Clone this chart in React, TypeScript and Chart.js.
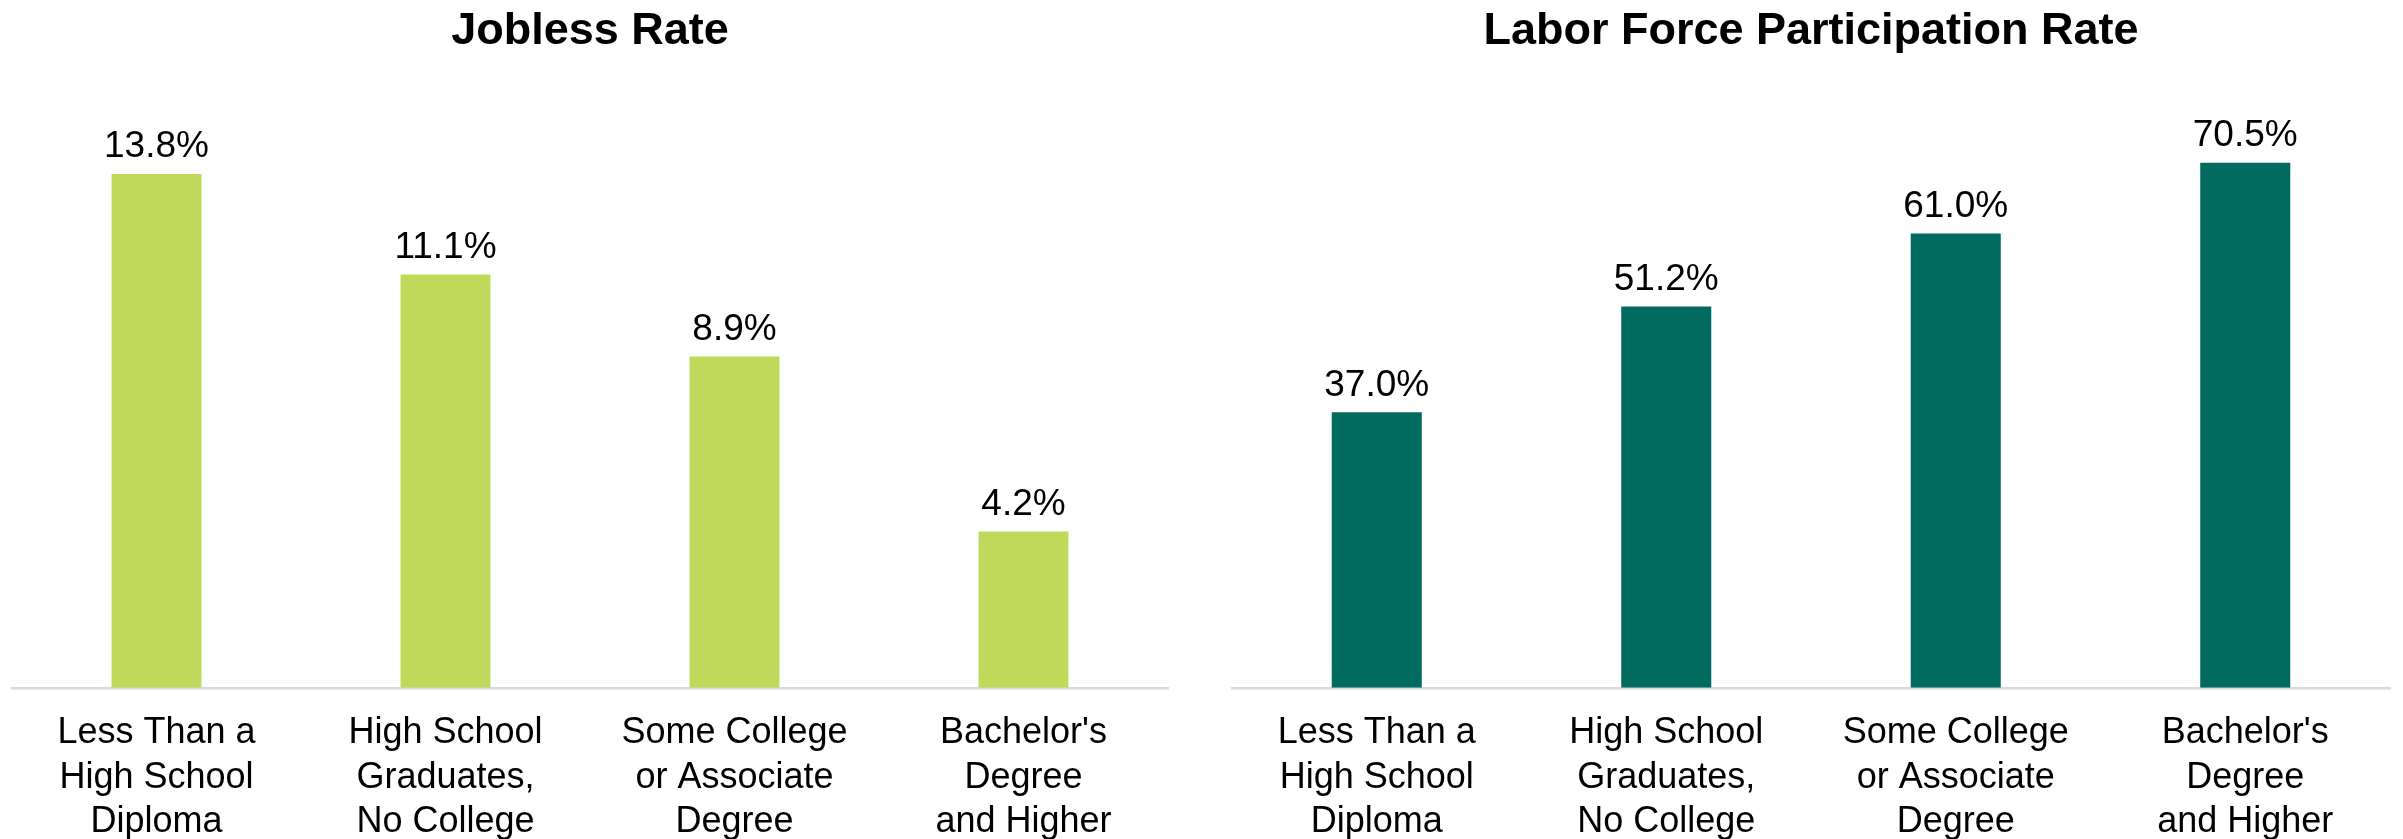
import React, { useEffect, useRef } from "react";
import { Chart, registerables } from "chart.js";

Chart.register(...registerables);

// ---- Data ----
const categories: string[][] = [
  ["Less Than a", "High School", "Diploma"],
  ["High School", "Graduates,", "No College"],
  ["Some College", "or Associate", "Degree"],
  ["Bachelor's", "Degree", "and Higher"],
];
const joblessRate: number[] = [13.8, 11.1, 8.9, 4.2];
const participationRate: number[] = [37.0, 51.2, 61.0, 70.5];
const joblessTitle = "Jobless Rate";
const participationTitle = "Labor Force Participation Rate";
const joblessMax = 16;
const participationMax = 80;

// ---- Styling ----
const FONT = "'Liberation Sans', Arial, Helvetica, sans-serif";
const PAGE_W = 2403;
const PAGE_H = 839;
const CANVAS_H = 868;

const valueLabelPlugin = {
  id: "valueLabels",
  afterDatasetsDraw(chart: any) {
    const ctx = chart.ctx;
    chart.data.datasets.forEach((ds: any, i: number) => {
      const meta = chart.getDatasetMeta(i);
      meta.data.forEach((bar: any, j: number) => {
        const v = ds.data[j] as number;
        ctx.save();
        ctx.font = `37px ${FONT}`;
        ctx.fillStyle = "#000000";
        ctx.textAlign = "center";
        ctx.textBaseline = "alphabetic";
        ctx.fillText(v.toFixed(1) + "%", bar.x, bar.y - 16.5);
        ctx.restore();
      });
    });
  },
};

type PanelProps = {
  title: string;
  values: number[];
  color: string;
  max: number;
  left: number;
  width: number;
  padLeft: number;
  padRight: number;
};

function ChartPanel(props: PanelProps) {
  const ref = useRef<HTMLCanvasElement | null>(null);
  useEffect(() => {
    if (!ref.current) return;
    const chart = new Chart(ref.current, {
      type: "bar",
      data: {
        labels: categories,
        datasets: [
          {
            data: props.values,
            backgroundColor: props.color,
            borderWidth: 0,
            barPercentage: 0.311,
            categoryPercentage: 1,
          },
        ],
      },
      options: {
        responsive: false,
        maintainAspectRatio: false,
        animation: false,
        layout: {
          padding: { left: props.padLeft, right: props.padRight, top: 0, bottom: 0 },
        },
        plugins: {
          legend: { display: false },
          tooltip: { enabled: false },
          title: {
            display: true,
            text: props.title,
            color: "#000000",
            font: { family: FONT, size: 45, weight: "bold", lineHeight: 1.2 },
            padding: { top: 5, bottom: 33 },
          },
        },
        scales: {
          x: {
            grid: { display: false, drawTicks: false, tickLength: 0 },
            border: { display: true, color: "#D9D9D9", width: 2.5 },
            ticks: {
              color: "#000000",
              font: { family: FONT, size: 36, lineHeight: 1.233 },
              padding: 23.5,
              maxRotation: 0,
              minRotation: 0,
              autoSkip: false,
            },
          },
          y: {
            display: false,
            min: 0,
            max: props.max,
          },
        },
      } as any,
      plugins: [valueLabelPlugin],
    });
    return () => chart.destroy();
  }, []);
  return (
    <div style={{ position: "absolute", left: props.left, top: 0, width: props.width, height: CANVAS_H }}>
      <canvas ref={ref} width={props.width} height={CANVAS_H} style={{ display: "block" }} />
    </div>
  );
}

export default function App() {
  return (
    <div
      style={{
        position: "absolute",
        left: 0,
        top: 0,
        width: PAGE_W,
        height: PAGE_H,
        background: "#ffffff",
        overflow: "hidden",
      }}
    >
      <ChartPanel
        title={joblessTitle}
        values={joblessRate}
        color="#C0D95A"
        max={joblessMax}
        left={0}
        width={1200}
        padLeft={12}
        padRight={32}
      />
      <ChartPanel
        title={participationTitle}
        values={participationRate}
        color="#006B5E"
        max={participationMax}
        left={1200}
        width={1203}
        padLeft={32}
        padRight={13}
      />
    </div>
  );
}
